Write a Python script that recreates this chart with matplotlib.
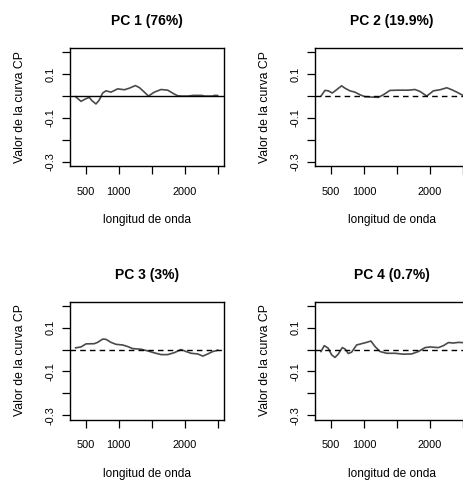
import matplotlib
matplotlib.use("Agg")
import matplotlib.pyplot as plt

plt.rcParams['font.family'] = ['Liberation Sans', 'DejaVu Sans']

# Principal component weight curves over wavelength (nm)
titles = ["PC 1 (76%)", "PC 2 (19.9%)", "PC 3 (3%)", "PC 4 (0.7%)"]

pc1_wl = [350, 430, 506, 556, 596, 657, 707, 758, 808, 884, 985, 1086, 1161,
          1252, 1313, 1389, 1450, 1540, 1641, 1742, 1843, 1893, 1950, 2050,
          2126, 2200, 2258, 2300, 2420, 2446, 2497, 2500]
pc1_val = [-0.003, -0.024, -0.012, -0.006, -0.021, -0.036, -0.018, 0.014, 0.024,
           0.018, 0.033, 0.029, 0.036, 0.048, 0.039, 0.018, 0.000, 0.018, 0.030,
           0.027, 0.009, 0.0015, 0.0, 0.0, 0.003, 0.003, 0.003, 0.0, 0.0, 0.003,
           0.003, 0.0]

pc2_wl = [350, 410, 460, 521, 586, 662, 713, 788, 864, 940, 1016, 1117, 1218,
          1293, 1394, 1520, 1672, 1773, 1849, 1950, 2051, 2152, 2253, 2329,
          2405, 2480, 2500]
pc2_val = [0.000, 0.026, 0.024, 0.014, 0.029, 0.047, 0.036, 0.024, 0.018, 0.006,
           -0.003, -0.0045, -0.006, 0.006, 0.026, 0.027, 0.027, 0.030, 0.021,
           0.000, 0.024, 0.029, 0.038, 0.029, 0.018, 0.006, 0.003]

pc3_wl = [350, 430, 506, 632, 682, 758, 808, 884, 960, 1061, 1136, 1212, 1338,
          1439, 1540, 1641, 1742, 1843, 1944, 2020, 2096, 2197, 2273, 2348,
          2424, 2500]
pc3_val = [0.008, 0.012, 0.026, 0.027, 0.033, 0.048, 0.047, 0.033, 0.024, 0.021,
           0.014, 0.0045, 0.0015, -0.006, -0.015, -0.023, -0.023, -0.014, 0.000,
           -0.009, -0.017, -0.020, -0.030, -0.020, -0.009, -0.003]

pc4_wl = [350, 400, 460, 511, 561, 611, 672, 713, 763, 813, 889, 965, 1041,
          1106, 1167, 1243, 1344, 1470, 1596, 1722, 1823, 1924, 2000, 2126,
          2202, 2278, 2354, 2430, 2480, 2500]
pc4_val = [-0.009, 0.018, 0.006, -0.024, -0.036, -0.021, 0.009, 0.003, -0.018,
           -0.012, 0.021, 0.027, 0.033, 0.039, 0.014, -0.009, -0.017, -0.017,
           -0.021, -0.020, -0.009, 0.009, 0.012, 0.009, 0.018, 0.032, 0.030,
           0.033, 0.032, 0.032]

curves = [(pc1_wl, pc1_val), (pc2_wl, pc2_val), (pc3_wl, pc3_val), (pc4_wl, pc4_val)]

x_ticks = [500, 1000, 1500, 2000, 2500]
x_tick_labels = ["500", "1000", "", "2000", ""]
y_ticks = [-0.3, -0.2, -0.1, 0.0, 0.1, 0.2]
y_tick_labels = ["-0.3", "", "-0.1", "", "0.1", ""]

W, H = 463, 482
fig = plt.figure(figsize=(W / 100, H / 100), dpi=100)
fig.patch.set_facecolor("white")

ax_w, ax_h = 153.5, 118
lefts = [70, 315.3, 70, 315.3]
bottoms = [166, 166, 419.5, 419.5]

for i, (wl, val) in enumerate(curves):
    ax = fig.add_axes([lefts[i] / W, 1 - bottoms[i] / H, ax_w / W, ax_h / H])
    ax.set_xlim(264, 2586)
    ax.set_ylim(-0.32, 0.22)
    ax.plot(wl, val, color="#4a4a4a", lw=1.2, solid_joinstyle="round")
    if i == 0:
        ax.axhline(0, color="black", lw=1.0)
    else:
        ax.axhline(0, color="black", lw=1.0, ls=(0, (4, 3)))
    for s in ax.spines.values():
        s.set_linewidth(1.0)
        s.set_color("black")
    ax.set_xticks(x_ticks)
    ax.set_xticklabels(x_tick_labels)
    ax.set_yticks(y_ticks)
    ax.set_yticklabels(y_tick_labels, rotation=90, va="center")
    ax.tick_params(axis="both", direction="out", length=5.5, width=0.9,
                   labelsize=7.9, colors="black")
    ax.tick_params(axis="x", pad=9.5)
    ax.tick_params(axis="y", pad=4.8)
    ax.annotate(titles[i], xy=(0.5, 1), xycoords="axes fraction",
                xytext=(0, 23), textcoords="offset pixels",
                ha="center", va="baseline", fontsize=10, fontweight="bold")
    ax.annotate("longitud de onda", xy=(0.5, 0), xycoords="axes fraction",
                xytext=(0, -54), textcoords="offset pixels",
                ha="center", va="center", fontsize=8.6)
    ax.annotate("Valor de la curva CP", xy=(0, 0.5), xycoords="axes fraction",
                xytext=(-50, 0), textcoords="offset pixels",
                ha="center", va="center", rotation=90, fontsize=8.8)

fig.savefig("out.png", dpi=100)
